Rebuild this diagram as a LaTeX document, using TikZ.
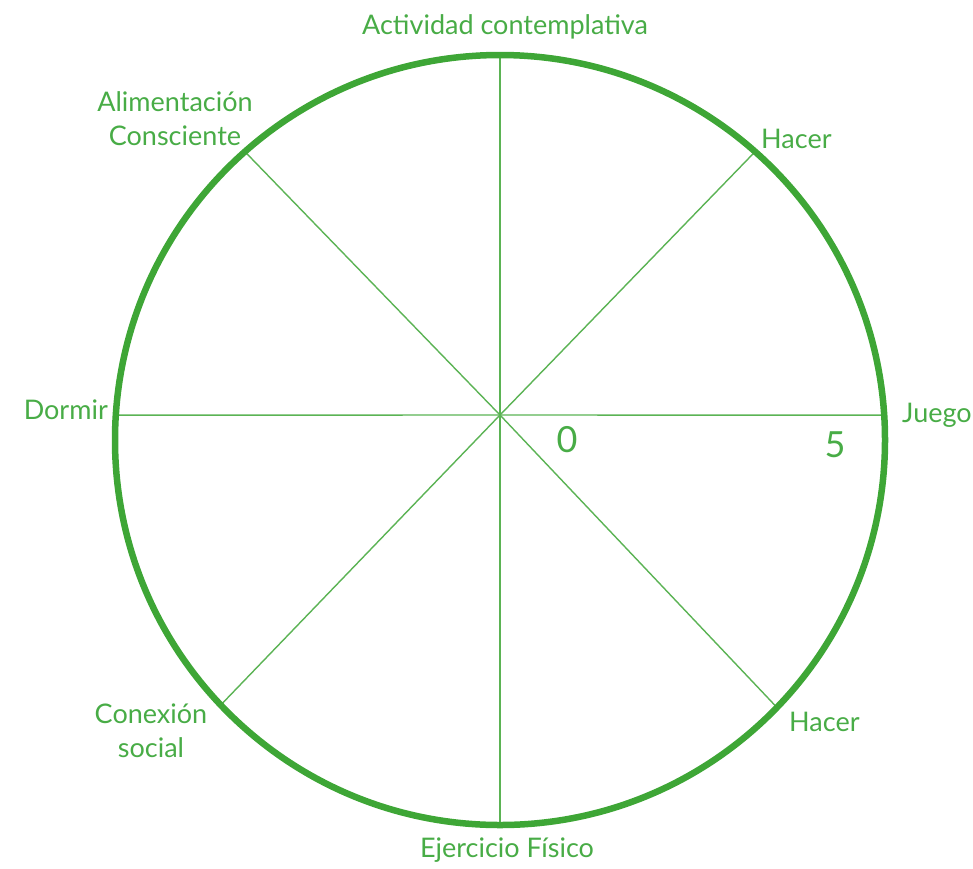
\documentclass[tikz,border=0pt]{standalone}
\usepackage{fontspec}
\setmainfont{Lato}
\definecolor{wheelgreen}{RGB}{62,166,54}
\definecolor{labelgreen}{RGB}{72,172,70}
\begin{document}
\begin{tikzpicture}[x=1pt,y=-1pt,
  rim/.style={draw=wheelgreen,line width=6.5pt},
  spoke/.style={draw=wheelgreen!85,line width=1.4pt},
  lbl/.style={text=labelgreen,font=\fontsize{27}{34}\selectfont,inner sep=0pt,align=center},
  num/.style={text=labelgreen,font=\fontsize{36}{40}\selectfont,inner sep=0pt}]
\useasboundingbox (0,0) rectangle (973,868);
\coordinate (C) at (500,440);
\coordinate (H) at (500,415);
\path (C) ++(-90:385) coordinate (pT)
      (C) ++(90:385) coordinate (pB)
      (C) ++(-3.7:385) coordinate (pR)
      (C) ++(-176.3:385) coordinate (pL)
      (C) ++(-48.5:385) coordinate (pTR)
      (C) ++(-131.5:385) coordinate (pTL)
      (C) ++(44:385) coordinate (pBR)
      (C) ++(-223.5:385) coordinate (pBL);
\foreach \p in {pT,pB,pR,pL,pTR,pTL,pBR,pBL} \draw[spoke] (H) -- (\p);
\draw[rim] (C) circle[radius=385];
\node[lbl] (act) at (505,27) {Actividad contemplativa};
\node[lbl] (ali) at (175,119) {Alimentación\\Consciente};
\node[lbl,anchor=west] (hac1) at (761,139) {Hacer};
\node[lbl,anchor=east] (dor) at (108,410) {Dormir};
\node[lbl,anchor=west] (jue) at (902,415) {Juego};
\node[num] (n0) at (567,440) {0};
\node[num] (n5) at (835,445) {5};
\node[lbl] (con) at (151,731) {Conexión\\social};
\node[lbl,anchor=west] (hac2) at (789,722) {Hacer};
\node[lbl] (eje) at (507,850) {Ejercicio Físico};
\end{tikzpicture}
\end{document}
